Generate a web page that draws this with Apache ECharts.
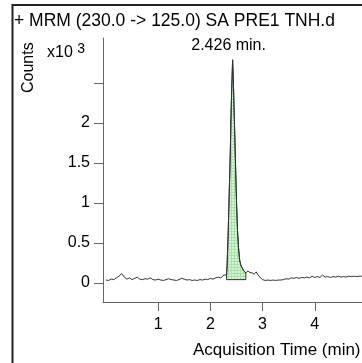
<!DOCTYPE html>
<html><head><meta charset="utf-8">
<script src="https://cdn.jsdelivr.net/npm/echarts@6/dist/echarts.min.js"></script>
<style>html,body{margin:0;padding:0;background:#fff;overflow:hidden}#c{width:362px;height:363px}</style>
</head><body><div id="c"></div>
<script>
// Acquisition time (min)
var times = [0.00,0.05,0.10,0.15,0.20,0.25,0.30,0.35,0.40,0.45,0.50,0.55,0.60,0.65,0.70,0.75,0.80,0.85,0.90,0.95,
1.00,1.05,1.10,1.15,1.20,1.25,1.30,1.35,1.40,1.45,1.50,1.55,1.60,1.65,1.70,1.75,1.80,1.85,1.90,1.95,
2.00,2.05,2.10,2.15,2.20,2.23,2.26,2.29,2.31,2.32,2.34,2.36,2.38,2.40,2.426,2.44,2.46,2.48,2.50,2.52,2.54,2.56,2.58,2.60,2.62,2.64,2.66,2.68,
2.70,2.72,2.74,2.76,2.78,2.80,2.82,2.84,2.86,2.88,2.90,2.93,2.96,3.00,3.05,3.10,3.15,3.20,3.25,3.30,3.35,3.40,3.45,3.50,
3.55,3.60,3.65,3.70,3.75,3.80,3.85,3.90,3.95,4.00,4.05,4.10,4.15,4.20,4.25,4.30,4.35,4.40,4.45,4.50,4.55,4.60,4.65,4.70,4.75,4.80,4.85,4.90,4.95];
// Counts (x10^3)
var counts = [0.037,0.032,0.050,0.042,0.064,0.085,0.117,0.074,0.048,0.064,0.042,0.058,0.074,0.048,0.042,0.053,0.048,0.064,0.042,0.037,
0.048,0.037,0.032,0.042,0.053,0.042,0.037,0.032,0.042,0.058,0.048,0.037,0.042,0.032,0.037,0.032,0.042,0.037,0.048,0.042,
0.058,0.048,0.064,0.074,0.064,0.085,0.100,0.085,0.100,0.22,0.60,1.10,1.59,2.22,2.79,2.54,2.04,1.54,1.04,0.66,0.44,0.29,0.23,0.20,0.175,0.15,0.138,0.128,
0.112,0.15,0.16,0.128,0.112,0.128,0.138,0.112,0.133,0.138,0.112,0.085,0.064,0.042,0.032,0.037,0.032,0.037,0.032,0.037,0.037,0.042,0.053,0.048,
0.064,0.058,0.069,0.058,0.069,0.064,0.074,0.064,0.085,0.069,0.080,0.069,0.100,0.074,0.080,0.069,0.080,0.074,0.085,0.074,0.080,0.074,0.085,0.080,0.085,0.080,0.085,0.085,0.080];
var yTicks = [0, 0.5, 1, 1.5, 2, 2.5];
var yLabels = [0, 0.5, 1, 1.5, 2];
var xTicks = [1, 2, 3, 4];
var peakTime = 2.426;
var peakStart = 2.31, peakEnd = 2.68, peakBase = 0.042;
var titleText = '+ MRM (230.0 -> 125.0) SA PRE1 TNH.d';
var peakLabel = '2.426 min.';

var FONT = '"Liberation Sans", Arial, sans-serif';
var chart = echarts.init(document.getElementById('c'));

// hatch pattern for integrated peak area
var pc = document.createElement('canvas'); pc.width = 3; pc.height = 3;
var pctx = pc.getContext('2d');
pctx.fillStyle = '#d2f5d2'; pctx.fillRect(0,0,3,3);
pctx.fillStyle = '#abdfab'; pctx.fillRect(0,0,3,1); pctx.fillRect(0,0,1,3);

var line = times.map(function(t,i){return [t, counts[i]];});
var peakIdx = counts.indexOf(Math.max.apply(null, counts));

chart.setOption({
  animation: false,
  textStyle: {fontFamily: FONT},
  grid: {left: 103, top: 38, right: 0, bottom: 61, containLabel: false},
  xAxis: {
    type: 'value', min: -0.057, max: 4.905,
    axisLine: {onZero: false, lineStyle: {color: '#666', width: 1}},
    axisTick: {show: true, length: 9, customValues: xTicks, lineStyle: {color: '#666'}},
    axisLabel: {customValues: xTicks, margin: 15, fontSize: 16, color: '#000', fontFamily: FONT},
    splitLine: {show: false}
  },
  yAxis: {
    type: 'value', min: -0.2375, max: 3.0625,
    axisLine: {show: true, onZero: false, lineStyle: {color: '#666', width: 1}},
    axisTick: {show: true, length: 9, customValues: yTicks, lineStyle: {color: '#666'}},
    axisLabel: {customValues: yLabels, margin: 13, fontSize: 16, color: '#000', fontFamily: FONT},
    splitLine: {show: false}
  },
  graphic: [
    {type: 'rect', shape: {x: 12.5, y: 5, width: 420, height: 420}, style: {fill: 'none', stroke: '#222', lineWidth: 2}, z: 10},
    {type: 'text', left: 14, top: 12, style: {text: titleText, font: '17.5px ' + FONT, fill: '#000'}},
    {type: 'text', x: 47, y: 42, style: {text: 'x10 {s|3}', font: '16px ' + FONT, fill: '#000', rich: {s: {fontSize: 14, verticalAlign: 'top', padding: [0,0,8,0]}}}},
    {type: 'text', x: 21, y: 93, rotation: Math.PI/2, style: {text: 'Counts', font: '16px ' + FONT, fill: '#000'}},
    {type: 'text', left: 193, top: 342, style: {text: 'Acquisition Time (min)', font: '17px ' + FONT, fill: '#000'}}
  ],
  series: [
    {
      type: 'custom', z: 1, silent: true,
      data: [[peakStart, peakEnd]],
      renderItem: function(params, api){
        var pts = [api.coord([peakStart, peakBase])];
        for (var i = 0; i < times.length; i++) {
          if (times[i] >= peakStart && times[i] <= peakEnd) pts.push(api.coord([times[i], counts[i]]));
        }
        pts.push(api.coord([peakEnd, peakBase]));
        return {type: 'polygon', shape: {points: pts},
          style: {fill: {image: pc, repeat: 'repeat'}, stroke: '#333', lineWidth: 1}};
      }
    },
    {
      type: 'line', z: 2, data: line, symbol: 'none', silent: true,
      lineStyle: {color: '#333', width: 1}
    }
  ]
});

// peak retention-time label, placed through the chart's own scales
var apex = chart.convertToPixel({gridIndex: 0}, [peakTime, counts[peakIdx]]);
chart.setOption({graphic: [{type: 'text', id: 'peaklbl', x: apex[0] - 4, y: apex[1] - 6,
  style: {text: peakLabel, font: '16px ' + FONT, fill: '#000', align: 'center', verticalAlign: 'bottom'}}]});
</script></body></html>
